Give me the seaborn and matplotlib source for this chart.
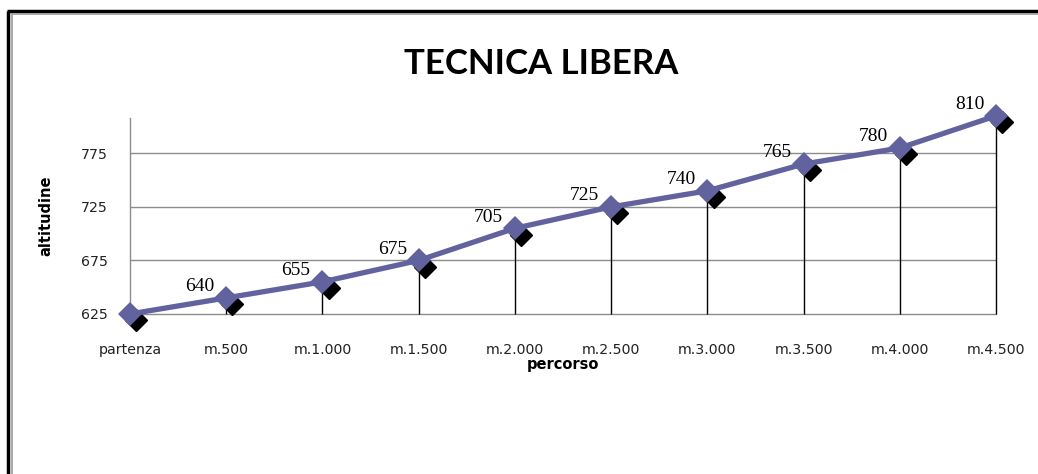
import numpy as np
import pandas as pd
import seaborn as sns
import matplotlib.pyplot as plt
from matplotlib.lines import Line2D
import matplotlib.transforms as mtransforms

# data
percorso = ["partenza", "m.500", "m.1.000", "m.1.500", "m.2.000",
            "m.2.500", "m.3.000", "m.3.500", "m.4.000", "m.4.500"]
altitudine = [625, 640, 655, 675, 705, 725, 740, 765, 780, 810]
yticks = [625, 675, 725, 775]

lineColor = "#62629e"

sns.set_theme(style="white")
plt.rcParams['font.family'] = ['DejaVu Sans']

df = pd.DataFrame({"percorso": percorso, "altitudine": altitudine})
xpos = np.arange(len(percorso))

fig = plt.figure(figsize=(10.38, 4.74), dpi=100)
ax = fig.add_axes([0.1252, 0.3376, 0.9595 - 0.1252, 0.751 - 0.3376])

# gridlines
for yv in yticks:
    ax.axhline(yv, color="#8c8c8c", lw=1.0, zorder=1, clip_on=False)

# drop lines
ax.vlines(xpos, ymin=yticks[0], ymax=df["altitudine"], color="black",
          lw=1.0, zorder=2, clip_on=False)

# black shadow of the markers
shadow = mtransforms.offset_copy(ax.transData, fig=fig, x=4.5, y=-4.5, units='points')
ax.plot(xpos, df["altitudine"], linestyle="none", marker="D", ms=11,
        color="black", transform=shadow, zorder=3, clip_on=False)

sns.lineplot(data=df, x=xpos, y="altitudine", sort=False, color=lineColor,
             lw=3.8, marker="D", markersize=12, markeredgewidth=0,
             ax=ax, zorder=4, clip_on=False)

# data labels (no label on the starting point)
for i, v in enumerate(altitudine):
    if i == 0:
        continue
    ax.annotate(str(v), (i, v), xytext=(-19, 2), textcoords="offset points",
                ha="center", va="bottom", fontsize=14, annotation_clip=False,
                family="Liberation Serif", color="black", zorder=5)

ax.set_xlim(0, len(percorso) - 1)
ax.set_ylim(625, 808)
ax.set_xticks(xpos)
ax.set_xticklabels(percorso)
ax.set_yticks(yticks)
ax.tick_params(axis="x", length=0, pad=21, labelsize=10.2, colors="#222222")
ax.tick_params(axis="y", length=0, pad=16, labelsize=10.2, colors="#222222")

for s in ["top", "right", "bottom"]:
    ax.spines[s].set_visible(False)
ax.spines["left"].set_color("#8c8c8c")
ax.spines["left"].set_linewidth(1.0)

ax.set_xlabel("percorso", fontsize=10.5, fontweight="bold", labelpad=0, color="black")
ax.set_ylabel("altitudine", fontsize=10.5, fontweight="bold", labelpad=20, color="black")

fig.text(0.521, 0.866, "TECNICA LIBERA", ha="center", va="center",
         fontsize=25, fontweight="bold", family="Lato", color="black")

# outer frame
fig.add_artist(Line2D([0.0080, 0.0080], [0.0, 0.976], color="black", lw=2.5,
                      solid_capstyle="butt"))
fig.add_artist(Line2D([0.0068, 1.0], [0.977, 0.977], color="black", lw=2.5,
                      solid_capstyle="butt"))
fig.add_artist(Line2D([0.0118, 0.0118], [0.0, 0.972], color="#999999", lw=1.2,
                      solid_capstyle="butt"))
fig.add_artist(Line2D([0.0112, 1.0], [0.9715, 0.9715], color="#999999", lw=1.2,
                      solid_capstyle="butt"))

fig.savefig("out.png", dpi=100)
